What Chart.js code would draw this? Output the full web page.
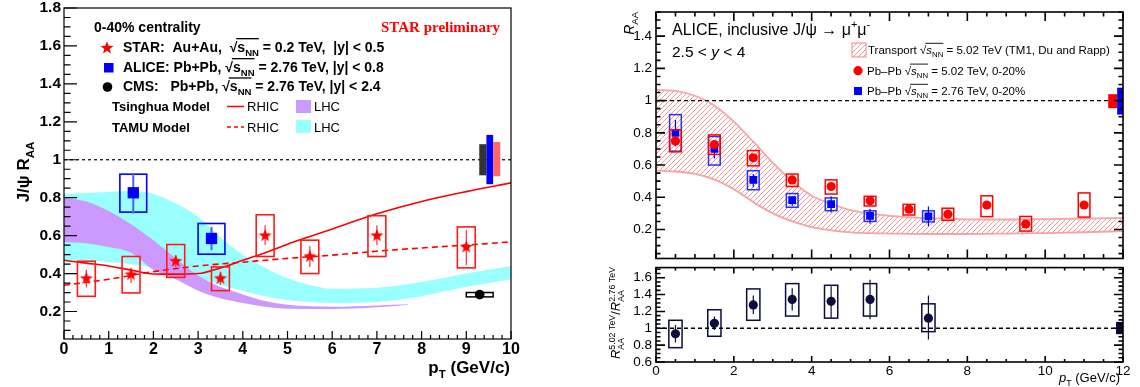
<!doctype html>
<html lang="en">
<head>
<meta charset="utf-8">
<title>J/psi RAA vs pT</title>
<script src="https://cdn.jsdelivr.net/npm/chart.js"></script>
<style>
  html, body { margin: 0; padding: 0; background: #fff; }
  #wrap { position: relative; width: 1140px; height: 387px; overflow: hidden; }
  canvas { position: absolute; }
  #left { left: 0; top: 0; }
  #rtop { left: 600px; top: 0; }
  #rbot { left: 600px; top: 263px; }
</style>
</head>
<body>
<div id="wrap">
  <canvas id="left" width="540" height="387"></canvas>
  <canvas id="rtop" width="540" height="264"></canvas>
  <canvas id="rbot" width="540" height="124"></canvas>
</div>
<script>
const SANS = '"Liberation Sans", Arial, Helvetica, sans-serif';
const SERIF = '"Liberation Serif", "Times New Roman", serif';

// ---------- left panel: 0-40% centrality ----------
const leftXTicks = [0, 1, 2, 3, 4, 5, 6, 7, 8, 9, 10];
const leftYTicks = [0.2, 0.4, 0.6, 0.8, 1.0, 1.2, 1.4, 1.6, 1.8];

// STAR Au+Au 200 GeV
const starX      = [0.5, 1.5, 2.5, 3.5, 4.5, 5.5, 7, 9];
const starY      = [0.374, 0.395, 0.465, 0.374, 0.60, 0.49, 0.60, 0.54];
const starErrLo  = [0.326, 0.35, 0.43, 0.34, 0.55, 0.435, 0.55, 0.445];
const starErrHi  = [0.42, 0.43, 0.497, 0.41, 0.655, 0.545, 0.655, 0.63];
const starSysLo  = [0.28, 0.298, 0.38, 0.31, 0.49, 0.40, 0.49, 0.43];
const starSysHi  = [0.465, 0.49, 0.553, 0.435, 0.71, 0.576, 0.705, 0.646];
const starBinHalf = 0.2;

// ALICE Pb+Pb 2.76 TeV |y|<0.8
const aliceX     = [1.55, 3.3];
const aliceY     = [0.826, 0.585];
const aliceErrLo = [0.717, 0.523];
const aliceErrHi = [0.93, 0.646];
const aliceSysLo = [0.724, 0.502];
const aliceSysHi = [0.924, 0.664];
const aliceBinHalf = 0.3;

// CMS Pb+Pb 2.76 TeV |y|<2.4
const cmsX     = [9.3];
const cmsY     = [0.289];
const cmsSysLo = [0.277];
const cmsSysHi = [0.30];
const cmsBinHalf = 0.3;

// Tsinghua model, RHIC (solid)
const tsingRhicX = [0, 0.5, 1, 1.5, 2, 2.5, 3, 3.5, 4, 4.5, 5, 5.5, 6, 7, 8, 9, 10];
const tsingRhicY = [0.47, 0.455, 0.44, 0.418, 0.398, 0.397, 0.40, 0.43, 0.47, 0.51, 0.555, 0.595, 0.635, 0.715, 0.78, 0.832, 0.878];
// TAMU model, RHIC (dashed)
const tamuRhicX = [0, 1, 2, 3, 4, 5, 6, 7, 8, 9, 10];
const tamuRhicY = [0.338, 0.37, 0.41, 0.44, 0.46, 0.48, 0.497, 0.518, 0.535, 0.55, 0.567];
// TAMU model, LHC band
const tamuLhcX  = [0, 0.5, 1, 1.5, 2, 2.5, 3, 3.5, 4, 4.5, 5, 5.5, 6, 7, 8, 9, 10];
const tamuLhcHi = [0.82, 0.825, 0.83, 0.835, 0.82, 0.77, 0.70, 0.59, 0.50, 0.43, 0.375, 0.34, 0.32, 0.325, 0.355, 0.40, 0.44];
const tamuLhcLo = [0.47, 0.47, 0.46, 0.45, 0.43, 0.41, 0.38, 0.34, 0.31, 0.28, 0.26, 0.25, 0.245, 0.25, 0.28, 0.33, 0.37];
// Tsinghua model, LHC band
const tsingLhcX  = [0, 0.5, 1, 1.5, 2, 2.5, 3, 3.5, 4, 4.5, 5, 6, 7, 7.7];
const tsingLhcHi = [0.80, 0.78, 0.73, 0.66, 0.575, 0.48, 0.39, 0.33, 0.29, 0.255, 0.235, 0.225, 0.232, 0.238];
const tsingLhcLo = [0.567, 0.56, 0.54, 0.51, 0.42, 0.37, 0.31, 0.27, 0.245, 0.225, 0.215, 0.213, 0.222, 0.236];

// global uncertainties at unity: [xLo, xHi, yLo, yHi]
const leftGlobals = [[9.29, 9.45, 0.918, 1.082], [9.45, 9.6, 0.871, 1.131], [9.6, 9.76, 0.913, 1.094]];
const leftGlobalColors = ['#333333', '#0000ff', '#ff6666'];

// ---------- right panels: ALICE 2.5<y<4, 0-20% ----------
const rightXTicks = [0, 2, 4, 6, 8, 10, 12];
const rightTopYTicks = [0.2, 0.4, 0.6, 0.8, 1.0, 1.2, 1.4];
const rightBotYTicks = [0.6, 0.8, 1.0, 1.2, 1.4, 1.6];

// Pb-Pb 5.02 TeV
const pb502X     = [0.5, 1.5, 2.5, 3.5, 4.5, 5.5, 6.5, 7.5, 8.5, 9.5, 11];
const pb502Y     = [0.75, 0.727, 0.645, 0.508, 0.467, 0.378, 0.326, 0.295, 0.352, 0.234, 0.352];
const pb502ErrLo = [0.73, 0.71, 0.63, 0.495, 0.45, 0.365, 0.312, 0.28, 0.33, 0.215, 0.33];
const pb502ErrHi = [0.77, 0.745, 0.66, 0.52, 0.485, 0.39, 0.34, 0.31, 0.375, 0.255, 0.375];
const pb502SysLo = [0.682, 0.666, 0.595, 0.467, 0.42, 0.346, 0.29, 0.257, 0.28, 0.19, 0.277];
const pb502SysHi = [0.818, 0.787, 0.69, 0.544, 0.508, 0.406, 0.356, 0.332, 0.409, 0.281, 0.427];
// Pb-Pb 2.76 TeV
const pb276X     = [0.5, 1.5, 2.5, 3.5, 4.5, 5.5, 7];
const pb276Y     = [0.80, 0.70, 0.508, 0.382, 0.358, 0.285, 0.281];
const pb276ErrLo = [0.716, 0.64, 0.463, 0.346, 0.305, 0.236, 0.22];
const pb276ErrHi = [0.88, 0.747, 0.544, 0.407, 0.406, 0.327, 0.342];
const pb276SysLo = [0.686, 0.60, 0.447, 0.338, 0.317, 0.25, 0.247];
const pb276SysHi = [0.913, 0.777, 0.565, 0.423, 0.396, 0.316, 0.316];
const rightBinHalf = 0.15;
// transport model TM1 band
const tm1X  = [0, 0.5, 1, 1.5, 2, 2.5, 3, 3.5, 4, 4.5, 5, 5.5, 6, 7, 8, 9, 10, 11, 12];
const tm1Hi = [1.067, 1.06, 1.03, 0.97, 0.87, 0.745, 0.615, 0.50, 0.41, 0.36, 0.32, 0.30, 0.285, 0.27, 0.263, 0.262, 0.264, 0.268, 0.272];
const tm1Lo = [0.565, 0.56, 0.545, 0.51, 0.45, 0.37, 0.30, 0.25, 0.215, 0.195, 0.182, 0.177, 0.175, 0.172, 0.172, 0.175, 0.178, 0.183, 0.19];
const rightTopGlobals = [[11.62, 11.85, 0.953, 1.04], [11.85, 12.0, 0.913, 1.08]];
const rightTopGlobalColors = ['#ff0000', '#0000ff'];

// ratio 5.02 / 2.76
const ratioX     = [0.5, 1.5, 2.5, 3.5, 4.5, 5.5, 7];
const ratioY     = [0.935, 1.06, 1.277, 1.342, 1.32, 1.342, 1.12];
const ratioErrLo = [0.83, 0.98, 1.17, 1.21, 1.12, 1.106, 0.867];
const ratioErrHi = [1.04, 1.14, 1.39, 1.475, 1.5, 1.577, 1.39];
const ratioSysLo = [0.77, 0.905, 1.095, 1.145, 1.12, 1.145, 0.96];
const ratioSysHi = [1.095, 1.22, 1.467, 1.53, 1.51, 1.53, 1.29];
const ratioBinHalf = 0.17;
const rightBotGlobals = [[11.82, 12.0, 0.93, 1.076]];
const rightBotGlobalColors = ['#0d0d3d'];

// ---------- helpers ----------
const pts = (xs, ys) => xs.map((x, i) => ({ x: x, y: ys[i] }));
const fmt = v => String(Math.round(v * 10) / 10);
const setTicks = arr => s => { s.ticks = arr.map(v => ({ value: v })); };
const fixY = w => s => { s.width = w; s.paddingTop = 0; s.paddingBottom = 0; };
const fixX = h => s => { s.height = h; s.paddingLeft = 0; s.paddingRight = 0; };

function makeStar(r, color) {
  const c = document.createElement('canvas');
  const n = Math.ceil(r * 2 + 2);
  c.width = n; c.height = n;
  const g = c.getContext('2d');
  g.fillStyle = color;
  g.beginPath();
  for (let k = 0; k < 10; k++) {
    const rr = k % 2 ? r * 0.42 : r;
    const a = -Math.PI / 2 + k * Math.PI / 5;
    const px = n / 2 + rr * Math.cos(a), py = n / 2 + rr * Math.sin(a);
    if (k) g.lineTo(px, py); else g.moveTo(px, py);
  }
  g.closePath();
  g.fill();
  return c;
}

function makeHatch(ctx, color) {
  const c = document.createElement('canvas');
  c.width = 5; c.height = 5;
  const g = c.getContext('2d');
  g.strokeStyle = color; g.lineWidth = 0.9;
  g.beginPath();
  g.moveTo(0, 5); g.lineTo(5, 0);
  g.moveTo(-1, 1); g.lineTo(1, -1);
  g.moveTo(4, 6); g.lineTo(6, 4);
  g.stroke();
  return ctx.createPattern(c, 'repeat');
}

// rich text: strings, {i:..} italic, {sub, sup}, {root, sub, it} for sqrt(s_NN)
function rich(ctx, parts, x, y, o) {
  const fam = o.family || SANS;
  const S = o.size, s2 = S * 0.68;
  const f = (sz, it) => (it ? 'italic ' : '') + (o.bold ? 'bold ' : '') + sz + 'px ' + fam;
  function run(draw, x0) {
    let cx = x0;
    for (const p of parts) {
      if (typeof p === 'string' || p.i !== undefined) {
        const t = typeof p === 'string' ? p : p.i;
        ctx.font = f(S, typeof p !== 'string');
        if (draw) ctx.fillText(t, cx, y);
        cx += ctx.measureText(t).width;
      } else if (p.root !== undefined) {
        ctx.font = f(S, false);
        const rw = ctx.measureText('\u221A').width;
        if (draw) ctx.fillText('\u221A', cx, y);
        const ox = cx + rw * 0.85;
        cx += rw;
        ctx.font = f(S, !!p.it);
        if (draw) ctx.fillText(p.root, cx, y);
        cx += ctx.measureText(p.root).width;
        ctx.font = f(s2, false);
        if (draw) ctx.fillText(p.sub, cx, y + S * 0.28);
        cx += ctx.measureText(p.sub).width;
        if (draw) {
          ctx.save();
          ctx.strokeStyle = ctx.fillStyle;
          ctx.lineWidth = o.bold ? 1.3 : 0.9;
          ctx.beginPath();
          ctx.moveTo(ox, y - S * 0.93); ctx.lineTo(cx, y - S * 0.93);
          ctx.stroke();
          ctx.restore();
        }
      } else {
        ctx.font = f(s2, false);
        let w = 0;
        if (p.sub) { if (draw) ctx.fillText(p.sub, cx, y + S * 0.28); w = Math.max(w, ctx.measureText(p.sub).width); }
        if (p.sup) { if (draw) ctx.fillText(p.sup, cx, y - S * 0.42); w = Math.max(w, ctx.measureText(p.sup).width); }
        cx += w;
      }
    }
    return cx - x0;
  }
  ctx.save();
  ctx.textAlign = 'left';
  ctx.textBaseline = 'alphabetic';
  ctx.fillStyle = o.color || '#000';
  const w = run(false, 0);
  let x0 = x;
  if (o.align === 'center') x0 = x - w / 2;
  else if (o.align === 'right') x0 = x - w;
  run(true, x0);
  ctx.restore();
  return w;
}

// boxes (systematics) and error bars, drawn just under each marker dataset
const marksPlugin = {
  id: 'marks',
  beforeDatasetDraw(chart, args) {
    const ds = chart.data.datasets[args.index];
    if (!ds.sys && !ds.err) return;
    const { ctx, chartArea: a, scales: { x, y } } = chart;
    ctx.save();
    ctx.beginPath(); ctx.rect(a.left, a.top, a.width, a.height); ctx.clip();
    ds.data.forEach((p, i) => {
      const px = x.getPixelForValue(p.x);
      if (ds.sys) {
        const s = ds.sys;
        const x0 = x.getPixelForValue(p.x - s.dx), x1 = x.getPixelForValue(p.x + s.dx);
        const y0 = y.getPixelForValue(s.hi[i]), y1 = y.getPixelForValue(s.lo[i]);
        ctx.strokeStyle = s.color; ctx.lineWidth = s.lw;
        ctx.strokeRect(x0, y0, x1 - x0, y1 - y0);
      }
      if (ds.err) {
        const e = ds.err;
        ctx.strokeStyle = e.color; ctx.lineWidth = e.lw;
        ctx.beginPath();
        ctx.moveTo(px, y.getPixelForValue(e.hi[i]));
        ctx.lineTo(px, y.getPixelForValue(e.lo[i]));
        ctx.stroke();
      }
    });
    ctx.restore();
  },
  afterDatasetsDraw(chart, args, opts) {
    const { ctx, chartArea: a, scales: { x, y } } = chart;
    ctx.save();
    ctx.beginPath(); ctx.rect(a.left, a.top, a.width, a.height); ctx.clip();
    if (opts.unity) {
      const py = y.getPixelForValue(1);
      ctx.strokeStyle = '#000'; ctx.lineWidth = opts.unity.lw;
      ctx.setLineDash(opts.unity.dash);
      ctx.beginPath(); ctx.moveTo(a.left, py); ctx.lineTo(a.right, py); ctx.stroke();
      ctx.setLineDash([]);
    }
    (opts.globals || []).forEach((g, i) => {
      const x0 = x.getPixelForValue(g[0]), x1 = x.getPixelForValue(g[1]);
      const y0 = y.getPixelForValue(g[3]), y1 = y.getPixelForValue(g[2]);
      ctx.fillStyle = opts.globalColors[i];
      ctx.fillRect(x0, y0, x1 - x0, y1 - y0);
    });
    ctx.restore();
  }
};

// ROOT-like frame with inside ticks
const framePlugin = {
  id: 'frame',
  afterDraw(chart, args, opts) {
    const { ctx, chartArea: a, scales: { x, y } } = chart;
    ctx.save();
    ctx.strokeStyle = '#000';
    ctx.lineWidth = opts.lw;
    ctx.beginPath();
    for (const t of opts.ticks) {
      const sc = (t.side === 'left' || t.side === 'right') ? y : x;
      const i0 = Math.ceil(sc.min / t.step - 1e-6), i1 = Math.floor(sc.max / t.step + 1e-6);
      for (let i = i0; i <= i1; i++) {
        const p = sc.getPixelForValue(i * t.step);
        if (t.side === 'left') { ctx.moveTo(a.left, p); ctx.lineTo(a.left + t.len, p); }
        if (t.side === 'right') { ctx.moveTo(a.right, p); ctx.lineTo(a.right - t.len, p); }
        if (t.side === 'bottom') { ctx.moveTo(p, a.bottom); ctx.lineTo(p, a.bottom - t.len); }
        if (t.side === 'top') { ctx.moveTo(p, a.top); ctx.lineTo(p, a.top + t.len); }
      }
    }
    ctx.stroke();
    ctx.strokeRect(a.left, a.top, a.width, a.height);
    ctx.restore();
  }
};

const starImg = makeStar(6.8, '#ff0000');

function axisFont(size, bold) {
  return { family: SANS, size: size, weight: bold ? 'bold' : 'normal' };
}

function baseOptions(o) {
  return {
    responsive: false, animation: false, devicePixelRatio: 1, events: [],
    layout: { padding: o.padding },
    plugins: { legend: { display: false }, tooltip: { enabled: false },
      marks: o.marks, frame: o.frame },
    scales: {
      x: {
        type: 'linear', min: o.xmin, max: o.xmax,
        afterBuildTicks: setTicks(o.xticks), afterFit: fixX(o.xh),
        grid: { display: false, drawTicks: false }, border: { display: false },
        ticks: { display: o.xlabels, font: axisFont(o.fs, o.bold), color: '#000', padding: o.xpad,
          maxRotation: 0, autoSkip: false, callback: v => fmt(v) }
      },
      y: {
        type: 'linear', min: o.ymin, max: o.ymax,
        afterBuildTicks: setTicks(o.yticks), afterFit: fixY(o.yw),
        grid: { display: false, drawTicks: false }, border: { display: false },
        ticks: { font: axisFont(o.fsy || o.fs, o.bold), color: '#000', padding: o.ypad,
          autoSkip: false, callback: v => fmt(v) }
      }
    }
  };
}

// ---------- left chart ----------
const leftLegendPlugin = {
  id: 'leftLegend',
  afterDraw(chart) {
    const ctx = chart.ctx;
    rich(ctx, ['0-40% centrality'], 94, 31.7, { size: 14, bold: true });
    rich(ctx, ['STAR preliminary'], 381, 32.4, { size: 15, bold: true, family: SERIF, color: '#ff0000' });
    ctx.drawImage(starImg, 107 - starImg.width / 2, 48 - starImg.height / 2);
    rich(ctx, ['STAR:  Au+Au,  ', { root: 's', sub: 'NN' }, ' = 0.2 TeV,  |y| < 0.5'], 123, 51.7, { size: 14, bold: true });
    ctx.fillStyle = '#0000ff';
    ctx.fillRect(104, 63, 9.5, 9.5);
    rich(ctx, ['ALICE: Pb+Pb, ', { root: 's', sub: 'NN' }, ' = 2.76 TeV, |y| < 0.8'], 123, 71.7, { size: 14, bold: true });
    ctx.fillStyle = '#000';
    ctx.beginPath(); ctx.arc(107.5, 87, 4.8, 0, Math.PI * 2); ctx.fill();
    rich(ctx, ['CMS:   Pb+Pb, ', { root: 's', sub: 'NN' }, ' = 2.76 TeV, |y| < 2.4'], 123, 91, { size: 14, bold: true });

    rich(ctx, ['Tsinghua Model'], 112, 110.7, { size: 13, bold: true });
    rich(ctx, ['TAMU Model'], 112, 131.5, { size: 13, bold: true });
    ctx.save();
    ctx.strokeStyle = '#ff0000'; ctx.lineWidth = 1.5;
    ctx.beginPath(); ctx.moveTo(227, 106.5); ctx.lineTo(244, 106.5); ctx.stroke();
    ctx.setLineDash([4, 3]);
    ctx.beginPath(); ctx.moveTo(227, 127); ctx.lineTo(244, 127); ctx.stroke();
    ctx.restore();
    rich(ctx, ['RHIC'], 247, 111, { size: 13 });
    rich(ctx, ['RHIC'], 247, 131.5, { size: 13 });
    ctx.fillStyle = '#cc99ff'; ctx.fillRect(296, 100, 15, 13);
    ctx.fillStyle = '#99ffff'; ctx.fillRect(296, 120, 15, 13);
    rich(ctx, ['LHC'], 314, 111, { size: 13 });
    rich(ctx, ['LHC'], 314, 131.5, { size: 13 });

    ctx.save();
    ctx.translate(29, 172); ctx.rotate(-Math.PI / 2);
    rich(ctx, ['J/\u03C8 R', { sub: 'AA' }], 0, 0, { size: 17, bold: true, align: 'center' });
    ctx.restore();
    rich(ctx, ['p', { sub: 'T' }, ' (GeV/c)'], 510, 373, { size: 17, bold: true, align: 'right' });
  }
};

new Chart(document.getElementById('left'), {
  type: 'line',
  data: {
    datasets: [
      { data: pts(starX, starY), showLine: false, pointStyle: starImg, pointRadius: 7, order: 0,
        sys: { lo: starSysLo, hi: starSysHi, dx: starBinHalf, color: '#ff1a1a', lw: 1.6 },
        err: { lo: starErrLo, hi: starErrHi, color: '#ff3333', lw: 1.2 } },
      { data: pts(aliceX, aliceY), showLine: false, pointStyle: 'rect', pointRadius: 8,
        backgroundColor: '#0000ff', borderColor: '#0000ff', pointBorderWidth: 0, order: 0,
        sys: { lo: aliceSysLo, hi: aliceSysHi, dx: aliceBinHalf, color: '#0000ff', lw: 1.6 },
        err: { lo: aliceErrLo, hi: aliceErrHi, color: '#4466ff', lw: 2 } },
      { data: pts(cmsX, cmsY), showLine: false, pointStyle: 'circle', pointRadius: 4.8,
        backgroundColor: '#000', borderColor: '#000', pointBorderWidth: 0, order: 0,
        sys: { lo: cmsSysLo, hi: cmsSysHi, dx: cmsBinHalf, color: '#000', lw: 1.5 } },
      { data: pts(tsingRhicX, tsingRhicY), borderColor: '#ff0000', borderWidth: 1.6, pointRadius: 0,
        fill: false, cubicInterpolationMode: 'monotone', order: 1 },
      { data: pts(tamuRhicX, tamuRhicY), borderColor: '#ff0000', borderWidth: 1.6, borderDash: [6, 4],
        pointRadius: 0, fill: false, cubicInterpolationMode: 'monotone', order: 1 },
      { data: pts(tsingLhcX, tsingLhcHi), borderWidth: 0, pointRadius: 0, fill: '+1',
        backgroundColor: '#cc99ff', cubicInterpolationMode: 'monotone', order: 2 },
      { data: pts(tsingLhcX, tsingLhcLo), borderWidth: 0, pointRadius: 0, fill: false,
        cubicInterpolationMode: 'monotone', order: 2 },
      { data: pts(tamuLhcX, tamuLhcHi), borderWidth: 0, pointRadius: 0, fill: '+1',
        backgroundColor: '#99ffff', cubicInterpolationMode: 'monotone', order: 3 },
      { data: pts(tamuLhcX, tamuLhcLo), borderWidth: 0, pointRadius: 0, fill: false,
        cubicInterpolationMode: 'monotone', order: 3 }
    ]
  },
  options: baseOptions({
    padding: { left: 0, top: 7, right: 29, bottom: 0 },
    xmin: 0, xmax: 10, ymin: 0.055, ymax: 1.8,
    xticks: leftXTicks, yticks: leftYTicks, xh: 48, yw: 64,
    xlabels: true, fs: 16, fsy: 15.5, bold: true, xpad: 1, ypad: 3,
    marks: { unity: { lw: 1.2, dash: [3, 3] }, globals: leftGlobals, globalColors: leftGlobalColors },
    frame: { lw: 1.2, ticks: [
      { side: 'left', step: 0.2, len: 13 }, { side: 'left', step: 0.05, len: 6.5 },
      { side: 'bottom', step: 1, len: 8 }, { side: 'bottom', step: 0.2, len: 4 }
    ] }
  }),
  plugins: [marksPlugin, framePlugin, leftLegendPlugin]
});

// ---------- right top chart ----------
const rtopCtx = document.getElementById('rtop').getContext('2d');
const hatch = makeHatch(rtopCtx, '#f28c8c');

const rightTopTextPlugin = {
  id: 'rtopText',
  afterDraw(chart) {
    const ctx = chart.ctx;
    rich(ctx, ['ALICE, inclusive J/\u03C8 \u2192 \u03BC', { sup: '+' }, '\u03BC', { sup: '-' }], 72, 35, { size: 16 });
    rich(ctx, ['2.5 < ', { i: 'y' }, ' < 4'], 72, 57, { size: 15.5 });
    ctx.save();
    ctx.fillStyle = hatch; ctx.fillRect(252, 43, 14, 14);
    ctx.strokeStyle = '#f59a9a'; ctx.lineWidth = 1.2; ctx.strokeRect(252, 43, 14, 14);
    ctx.fillStyle = '#ff0000';
    ctx.beginPath(); ctx.arc(258, 70.7, 4.6, 0, Math.PI * 2); ctx.fill();
    ctx.fillStyle = '#0000ff'; ctx.fillRect(254, 87, 8, 8);
    ctx.restore();
    rich(ctx, ['Transport ', { root: 's', it: true, sub: 'NN' }, ' = 5.02 TeV (TM1, Du and Rapp)'], 268, 54, { size: 11.5 });
    rich(ctx, ['Pb\u2013Pb ', { root: 's', it: true, sub: 'NN' }, ' = 5.02 TeV, 0-20%'], 267, 74.8, { size: 11.5 });
    rich(ctx, ['Pb\u2013Pb ', { root: 's', it: true, sub: 'NN' }, ' = 2.76 TeV, 0-20%'], 267, 95, { size: 11.5 });
    ctx.save();
    ctx.translate(34, 12); ctx.rotate(-Math.PI / 2);
    rich(ctx, [{ i: 'R' }, { sub: 'AA' }], 0, 0, { size: 14, align: 'right' });
    ctx.restore();
  }
};

new Chart(rtopCtx, {
  type: 'line',
  data: {
    datasets: [
      { data: pts(pb502X, pb502Y), showLine: false, pointStyle: 'circle', pointRadius: 4.6,
        backgroundColor: '#ff0000', borderColor: '#ff0000', pointBorderWidth: 0, order: 0,
        sys: { lo: pb502SysLo, hi: pb502SysHi, dx: rightBinHalf, color: '#ff0000', lw: 1.5 },
        err: { lo: pb502ErrLo, hi: pb502ErrHi, color: '#ff0000', lw: 1.2 } },
      { data: pts(pb276X, pb276Y), showLine: false, pointStyle: 'rect', pointRadius: 5.5,
        backgroundColor: '#0000ff', borderColor: '#0000ff', pointBorderWidth: 0, order: 1,
        sys: { lo: pb276SysLo, hi: pb276SysHi, dx: rightBinHalf, color: '#2233ff', lw: 1.5 },
        err: { lo: pb276ErrLo, hi: pb276ErrHi, color: '#0000ff', lw: 1.2 } },
      { data: pts(tm1X, tm1Hi), borderColor: '#f7a5a5', borderWidth: 1.8, pointRadius: 0, fill: '+1',
        backgroundColor: hatch, cubicInterpolationMode: 'monotone', order: 2 },
      { data: pts(tm1X, tm1Lo), borderColor: '#f7a5a5', borderWidth: 1.8, pointRadius: 0, fill: false,
        cubicInterpolationMode: 'monotone', order: 2 }
    ]
  },
  options: baseOptions({
    padding: { left: 0, top: 12, right: 17, bottom: 0 },
    xmin: 0, xmax: 12, ymin: 0.02, ymax: 1.55,
    xticks: rightXTicks, yticks: rightTopYTicks, xh: 1, yw: 56,
    xlabels: false, fs: 13.5, bold: false, xpad: 0, ypad: 4,
    marks: { unity: { lw: 1.4, dash: [4, 3] }, globals: rightTopGlobals, globalColors: rightTopGlobalColors },
    frame: { lw: 1.6, ticks: [
      { side: 'left', step: 0.2, len: 9 }, { side: 'left', step: 0.05, len: 4.5 },
      { side: 'right', step: 0.2, len: 9 }, { side: 'right', step: 0.05, len: 4.5 },
      { side: 'bottom', step: 2, len: 9 }, { side: 'bottom', step: 0.5, len: 4.5 },
      { side: 'top', step: 2, len: 9 }, { side: 'top', step: 0.5, len: 4.5 }
    ] }
  }),
  plugins: [marksPlugin, framePlugin, rightTopTextPlugin]
});

// ---------- right bottom chart (ratio) ----------
const rightBotTextPlugin = {
  id: 'rbotText',
  afterDraw(chart) {
    const ctx = chart.ctx;
    ctx.save();
    ctx.translate(20, 50); ctx.rotate(-Math.PI / 2);
    rich(ctx, [{ i: 'R' }, { sub: 'AA', sup: '5.02 TeV' }, '/', { i: 'R' }, { sub: 'AA', sup: '2.76 TeV' }], 0, 0, { size: 13, align: 'center' });
    ctx.restore();
    rich(ctx, [{ i: 'p' }, { sub: 'T' }, ' (GeV/c)'], 520, 119, { size: 13, align: 'right' });
  }
};

new Chart(document.getElementById('rbot'), {
  type: 'line',
  data: {
    datasets: [
      { data: pts(ratioX, ratioY), showLine: false, pointStyle: 'circle', pointRadius: 4.6,
        backgroundColor: '#0d0d3d', borderColor: '#0d0d3d', pointBorderWidth: 0, order: 0,
        sys: { lo: ratioSysLo, hi: ratioSysHi, dx: ratioBinHalf, color: '#0d0d3d', lw: 1.5 },
        err: { lo: ratioErrLo, hi: ratioErrHi, color: '#0d0d3d', lw: 1.2 } }
    ]
  },
  options: baseOptions({
    padding: { left: 0, top: 1, right: 17, bottom: 0 },
    xmin: 0, xmax: 12, ymin: 0.6, ymax: 1.72,
    xticks: rightXTicks, yticks: rightBotYTicks, xh: 25, yw: 56,
    xlabels: true, fs: 13.5, bold: false, xpad: 1, ypad: 4,
    marks: { unity: { lw: 1.4, dash: [4, 3] }, globals: rightBotGlobals, globalColors: rightBotGlobalColors },
    frame: { lw: 1.6, ticks: [
      { side: 'left', step: 0.2, len: 9 }, { side: 'left', step: 0.05, len: 4.5 },
      { side: 'right', step: 0.2, len: 9 }, { side: 'right', step: 0.05, len: 4.5 },
      { side: 'bottom', step: 2, len: 6 }, { side: 'bottom', step: 0.5, len: 3 },
      { side: 'top', step: 2, len: 6 }, { side: 'top', step: 0.5, len: 3 }
    ] }
  }),
  plugins: [marksPlugin, framePlugin, rightBotTextPlugin]
});
</script>
</body>
</html>
